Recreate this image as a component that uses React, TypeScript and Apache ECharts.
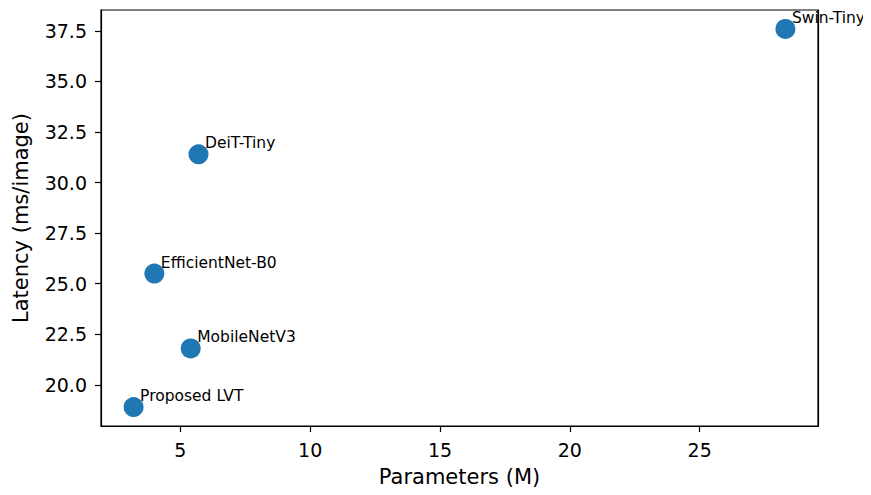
import React, { useEffect, useRef } from "react";
import * as echarts from "echarts";

const models = ["Proposed LVT", "MobileNetV3", "EfficientNet-B0", "DeiT-Tiny", "Swin-Tiny"];
const paramsM = [3.2, 5.4, 4.0, 5.7, 28.3];
const latencyMs = [18.9, 21.8, 25.5, 31.4, 37.6];
const xTicks = [5, 10, 15, 20, 25];
const yTicks = [20, 22.5, 25, 27.5, 30, 32.5, 35, 37.5];

const FONT = "DejaVu Sans";

export default function App() {
  const ref = useRef<HTMLDivElement>(null);
  useEffect(() => {
    if (!ref.current) return;
    const chart = echarts.init(ref.current, undefined, { renderer: "svg" });
    const xSpan = Math.max(...paramsM) - Math.min(...paramsM);
    const ySpan = Math.max(...latencyMs) - Math.min(...latencyMs);
    const xMin = Math.min(...paramsM) - 0.05 * xSpan;
    const xMax = Math.max(...paramsM) + 0.05 * xSpan;
    const yMin = Math.min(...latencyMs) - 0.05 * ySpan;
    const yMax = Math.max(...latencyMs) + 0.05 * ySpan;
    const data = models.map((m, i) => ({ name: m, value: [paramsM[i], latencyMs[i]] }));
    chart.setOption({
      animation: false,
      backgroundColor: "#ffffff",
      textStyle: { fontFamily: FONT },
      grid: {
        left: 101,
        right: 53,
        top: 10,
        bottom: 69,
        show: true,
        borderColor: "#000000",
        borderWidth: 1.2,
        backgroundColor: "transparent",
      },
      xAxis: {
        type: "value",
        min: xMin,
        max: xMax,
        name: "Parameters (M)",
        nameLocation: "middle",
        nameGap: 40,
        nameTextStyle: { fontSize: 21, color: "#000", fontFamily: FONT },
        axisLine: { show: true, onZero: false, lineStyle: { color: "#000", width: 1.2 } },
        axisTick: { show: true, length: 6, customValues: xTicks, lineStyle: { color: "#000", width: 1.2 } },
        axisLabel: {
          customValues: xTicks,
          fontSize: 19,
          color: "#000",
          fontFamily: FONT,
          margin: 14,
          formatter: (v: number) => String(v),
        },
        splitLine: { show: false },
      },
      yAxis: [
        {
          type: "value",
          min: yMin,
          max: yMax,
          name: "Latency (ms/image)",
          nameLocation: "middle",
          nameGap: 70,
          nameTextStyle: { fontSize: 21, color: "#000", fontFamily: FONT },
          axisLine: { show: true, onZero: false, lineStyle: { color: "#000", width: 1.2 } },
          axisTick: { show: true, length: 6, customValues: yTicks, lineStyle: { color: "#000", width: 1.2 } },
          axisLabel: {
            customValues: yTicks,
            fontSize: 19,
            color: "#000",
            fontFamily: FONT,
            margin: 14,
            formatter: (v: number) => v.toFixed(1),
          },
          splitLine: { show: false },
        },
        {
          type: "value",
          position: "right",
          min: yMin,
          max: yMax,
          z: 10,
          axisLine: { show: true, onZero: false, lineStyle: { color: "#000", width: 1.2 } },
          axisTick: { show: false },
          axisLabel: { show: false },
          splitLine: { show: false },
        },
      ],
      series: [
        {
          type: "scatter",
          data,
          symbolSize: 20,
          itemStyle: { color: "#1f77b4", opacity: 1 },
          clip: false,
          label: {
            show: true,
            formatter: (p: any) => p.name,
            position: [16.5, -1],
            align: "left",
            verticalAlign: "middle",
            fontSize: 15.5,
            color: "#000",
            fontFamily: FONT,
          },
        },
      ],
    });
    return () => chart.dispose();
  }, []);
  return <div ref={ref} style={{ width: 871, height: 495, margin: -8 }} />;
}
